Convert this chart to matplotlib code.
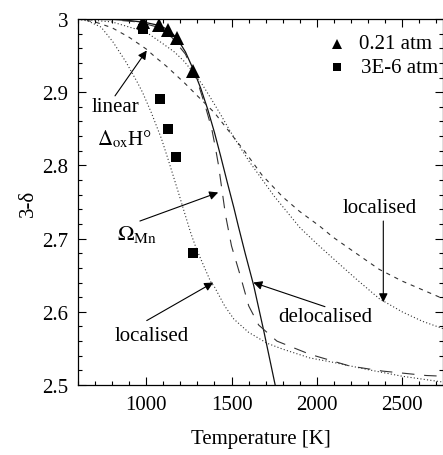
"""3-delta vs temperature: measured points and model curves (two pO2)."""
import matplotlib
matplotlib.use('Agg')
import matplotlib.pyplot as plt
from matplotlib.ticker import MultipleLocator, FormatStrFormatter

# measured data
T_AIR = [981, 1077, 1130, 1180, 1277]
D_AIR = [2.9955, 2.992, 2.985, 2.974, 2.929]
T_LOW = [981, 1079, 1130, 1176, 1277]
D_LOW = [2.986, 2.891, 2.850, 2.812, 2.681]

# model curves
T_DELOC = [600, 800, 900, 1000, 1080, 1130, 1180, 1230, 1280, 1320, 1360, 1400,
           1436, 1475, 1514, 1540, 1580, 1630, 1690, 1756]
D_DELOC = [3.000, 2.9995, 2.998, 2.995, 2.991, 2.985, 2.974, 2.955, 2.929, 2.905,
           2.877, 2.845, 2.813, 2.777, 2.742, 2.717, 2.680, 2.636, 2.573, 2.500]

T_OMEGA = [600, 800, 950, 1050, 1150, 1230, 1300, 1350, 1384, 1405, 1424, 1445,
           1465, 1500, 1552, 1601, 1659, 1766, 1959, 2192, 2386, 2640, 2740]
D_OMEGA = [3.000, 2.999, 2.996, 2.990, 2.975, 2.952, 2.915, 2.878, 2.850, 2.825,
           2.800, 2.765, 2.732, 2.690, 2.649, 2.608, 2.582, 2.560, 2.542, 2.526,
           2.519, 2.513, 2.512]

T_LIN = [600, 700, 800, 900, 1000, 1048, 1116, 1223, 1300, 1400, 1484, 1581, 1678,
         1800, 1900, 2017, 2095, 2230, 2366, 2500, 2620, 2740]
D_LIN = [3.000, 2.996, 2.988, 2.975, 2.959, 2.949, 2.936, 2.913, 2.895, 2.872,
         2.847, 2.818, 2.787, 2.757, 2.737, 2.717, 2.702, 2.680, 2.658, 2.642,
         2.630, 2.618]

T_LOC_AIR = [600, 800, 1000, 1087, 1165, 1223, 1279, 1330, 1378, 1440, 1494, 1550,
             1605, 1750, 1901, 2000, 2095, 2230, 2366, 2500, 2620, 2740]
D_LOC_AIR = [3.000, 2.996, 2.982, 2.968, 2.955, 2.942, 2.926, 2.910, 2.892, 2.868,
             2.846, 2.825, 2.805, 2.758, 2.715, 2.693, 2.673, 2.645, 2.618, 2.600,
             2.587, 2.577]

T_LOC_LOW = [600, 660, 735, 804, 882, 949, 978, 1030, 1090, 1130, 1186, 1221, 1262,
             1291, 1320, 1378, 1400, 1460, 1514, 1600, 1709, 1800, 1959, 2095, 2300,
             2500, 2740]
D_LOC_LOW = [3.000, 2.997, 2.989, 2.969, 2.941, 2.913, 2.900, 2.872, 2.836, 2.807,
             2.765, 2.738, 2.707, 2.688, 2.672, 2.641, 2.634, 2.608, 2.590, 2.572,
             2.557, 2.549, 2.537, 2.531, 2.521, 2.512, 2.504]


def main():
    plt.rcParams.update({'font.family': ['Liberation Serif', 'DejaVu Serif'],
                         'font.size': 15, 'mathtext.fontset': 'stix',
                         'lines.scale_dashes': False})
    fig = plt.figure(figsize=(4.43, 4.56), dpi=100)
    ax = fig.add_axes([78 / 443, 70 / 456, 365 / 443, 366 / 456])

    ink = '#111111'
    ax.plot(T_DELOC, D_DELOC, color=ink, lw=0.9)
    ax.plot(T_OMEGA, D_OMEGA, color='#333333', lw=0.8, ls=(0, (9, 7)))
    ax.plot(T_LIN, D_LIN, color='#333333', lw=0.8, ls=(0, (3, 3.5)))
    ax.plot(T_LOC_AIR, D_LOC_AIR, color='#333333', lw=0.8, ls=(0, (0.8, 1.6)))
    ax.plot(T_LOC_LOW, D_LOC_LOW, color='#333333', lw=0.8, ls=(0, (0.8, 1.6)))

    ax.plot(T_AIR, D_AIR, '^', color='black', ms=9.5, mew=0)
    ax.plot(T_LOW, D_LOW, 's', color='black', ms=7, mew=0)

    # legend drawn by hand, as in the original
    ax.plot([2116], [2.966], '^', color='black', ms=7.5, mew=0)
    ax.plot([2116], [2.934], 's', color='black', ms=6, mew=0)
    ax.text(2250, 2.966, '0.21 atm', va='center', ha='left')
    ax.text(2262, 2.934, '3E-6 atm', va='center', ha='left')

    arrow = dict(arrowstyle='-|>', color='black', lw=0.8, mutation_scale=13,
                 shrinkA=0, shrinkB=0)
    ax.text(682, 2.880, 'linear', va='center', ha='left')
    ax.text(711, 2.829, r'$\Delta_{\rm ox}$H°', va='baseline', ha='left')
    ax.annotate('', xy=(1003, 2.957), xytext=(817, 2.895), arrowprops=arrow)

    ax.text(829, 2.699, r'$\Omega_{\rm Mn}$', va='baseline', ha='left', fontsize=16)
    ax.annotate('', xy=(1422, 2.763), xytext=(963, 2.724), arrowprops=arrow)

    ax.text(817, 2.567, 'localised', va='center', ha='left')
    ax.annotate('', xy=(1393, 2.640), xytext=(1003, 2.588), arrowprops=arrow)

    ax.text(1774, 2.593, 'delocalised', va='center', ha='left')
    ax.annotate('', xy=(1628, 2.640), xytext=(2048, 2.607), arrowprops=arrow)

    ax.text(2153, 2.742, 'localised', va='center', ha='left')
    ax.annotate('', xy=(2390, 2.613), xytext=(2390, 2.724), arrowprops=arrow)

    ax.set_xlim(600, 2740)
    ax.set_ylim(2.5, 3.0)
    ax.xaxis.set_major_locator(MultipleLocator(500))
    ax.xaxis.set_minor_locator(MultipleLocator(100))
    ax.yaxis.set_major_locator(MultipleLocator(0.1))
    ax.yaxis.set_minor_locator(MultipleLocator(0.02))
    ax.yaxis.set_major_formatter(FormatStrFormatter('%g'))
    ax.set_xticks([1000, 1500, 2000, 2500])
    ax.tick_params(which='both', direction='in', top=True, right=True, width=0.8)
    ax.tick_params(which='major', length=6, pad=7)
    ax.tick_params(which='minor', length=3)
    for s in ax.spines.values():
        s.set_linewidth(0.9)
    ax.set_xlabel('Temperature [K]', labelpad=11)
    ax.set_ylabel('3-δ', labelpad=3)

    fig.savefig('out.png', dpi=100)
    plt.close(fig)


if __name__ == '__main__':
    main()
